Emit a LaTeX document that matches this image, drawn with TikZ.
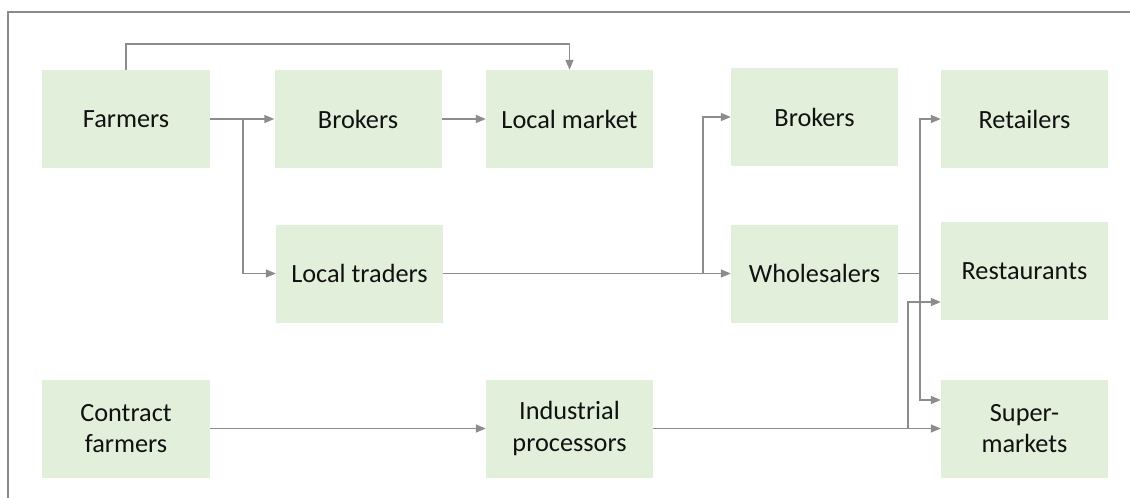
\documentclass[tikz,border=0pt]{standalone}
\usepackage{fontspec}
\setmainfont{Carlito}
\usetikzlibrary{arrows.meta}
\definecolor{boxfill}{HTML}{E2EFDA}
\definecolor{linecol}{HTML}{8C8C8C}
\definecolor{framecol}{HTML}{8A8A8A}
\definecolor{txtcol}{HTML}{111111}
\begin{document}
\begin{tikzpicture}[x=1pt,y=-1pt,
  box/.style={fill=boxfill,draw=none,minimum width=167pt,minimum height=98pt,inner sep=0pt,align=center,text=txtcol,font=\fontsize{26.3}{31.5}\selectfont},
  arr/.style={draw=linecol,line width=1.4pt,-{Triangle[length=10pt,width=8pt]}},
  ln/.style={draw=linecol,line width=1.4pt}]
\useasboundingbox (0,0) rectangle (1130,498);
\draw[framecol,line width=1.3pt] (8,498) -- (8,12) -- (1130,12);
\node[box,minimum width=168pt] (farmers) at (126,119) {Farmers};
\node[box] (brokersA) at (358,119) {Brokers};
\node[box] (localmarket) at (569.5,119) {Local market};
\node[box] (brokersB) at (814.5,117) {Brokers};
\node[box] (retailers) at (1024.5,119) {Retailers};
\node[box] (localtraders) at (359.5,273.5) {Local traders};
\node[box] (wholesalers) at (814.5,273.5) {Wholesalers};
\node[box] (restaurants) at (1024.5,271) {Restaurants};
\node[box,minimum width=168pt] (contract) at (126,428.5) {Contract\\farmers};
\node[box] (industrial) at (569.5,428.5) {Industrial\\processors};
\node[box] (supermarkets) at (1024.5,428.5) {Super-\\markets};
% Farmers
\draw[arr] (farmers.north) -- ++(0,-26) -| (localmarket.north);
\draw[arr] (farmers.east) -- (brokersA.west);
\coordinate (j1) at (243,119);
\draw[arr] (j1) |- (localtraders.west);
\draw[arr] (brokersA.east) -- (localmarket.west);
% Local traders
\draw[arr] (localtraders.east) -- (wholesalers.west);
\coordinate (j2) at (703,273.5);
\draw[arr] (j2) |- (brokersB.west);
% Wholesalers
\coordinate (j3) at (920,273.5);
\draw[ln] (wholesalers.east) -- (j3);
\draw[arr] (j3) |- (retailers.west);
\draw[arr] (j3) |- ([yshift=28.5pt]supermarkets.west);
% Contract farmers
\draw[arr] (contract.east) -- (industrial.west);
\draw[arr] (industrial.east) -- (supermarkets.west);
\coordinate (j4) at (908,428.5);
\draw[arr] (j4) |- ([yshift=-31pt]restaurants.west);
\end{tikzpicture}
\end{document}
